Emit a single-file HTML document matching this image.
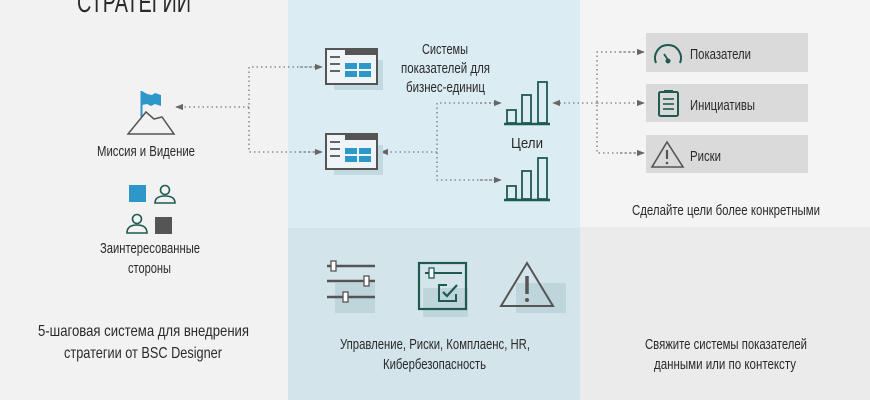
<!DOCTYPE html>
<html><head><meta charset="utf-8"><style>
html,body{margin:0;padding:0;background:#f2f2f2}
svg{display:block}
text{font-family:"Liberation Sans","Noto Sans CJK SC",sans-serif;fill:#2a2a2a}
</style></head><body>
<svg width="870" height="400" viewBox="0 0 870 400" xmlns="http://www.w3.org/2000/svg">
<defs>
<marker id="ar" viewBox="0 0 10 10" refX="9" refY="5" markerWidth="8" markerHeight="8" orient="auto" markerUnits="userSpaceOnUse"><path d="M0,1 L10,5 L0,9 z" fill="#666"/></marker>
</defs>
<rect x="0" y="0" width="288" height="400" fill="#f2f2f2"/>
<rect x="288" y="0" width="292" height="228" fill="#dcecf3"/>
<rect x="288" y="228" width="292" height="172" fill="#d3e4eb"/>
<rect x="580" y="0" width="290" height="227" fill="#f4f4f4"/>
<rect x="580" y="227" width="290" height="173" fill="#ebebeb"/>

<text x="77" y="12" font-size="29" textLength="114" lengthAdjust="spacingAndGlyphs" fill="#222">СТРАТЕГИИ</text>

<!-- flag & mountain -->
<line x1="141.5" y1="91" x2="141.5" y2="117" stroke="#2e97c9" stroke-width="2"/>
<path d="M142,91 L147,94 L152,95 L155,93 L161,95 L161,106 L155,104 L151,106 L147,104 L142,105 z" fill="#2e97c9"/>
<path d="M128,134 L146,112 L154,119 L162,117 L174,134 z" fill="none" stroke="#555" stroke-width="1.5"/>
<text x="97" y="156" font-size="15" textLength="98" lengthAdjust="spacingAndGlyphs">Миссия и Видение</text>

<!-- stakeholders -->
<rect x="129" y="185" width="17" height="17" fill="#2e97c9"/>
<circle cx="165" cy="190" r="4.5" fill="none" stroke="#1f5a50" stroke-width="1.6"/>
<path d="M155,203 Q155,196 165,196 Q175,196 175,203 z" fill="none" stroke="#1f5a50" stroke-width="1.6"/>
<circle cx="137" cy="219" r="4.5" fill="none" stroke="#1f5a50" stroke-width="1.6"/>
<path d="M127,233 Q127,225 137,225 Q147,225 147,233 z" fill="none" stroke="#1f5a50" stroke-width="1.6"/>
<rect x="155" y="217" width="17" height="17" fill="#555"/>
<text x="100" y="253" font-size="15" textLength="100" lengthAdjust="spacingAndGlyphs">Заинтересованные</text>
<text x="128" y="273" font-size="15" textLength="43" lengthAdjust="spacingAndGlyphs">стороны</text>

<text x="38" y="336" font-size="16" textLength="211" lengthAdjust="spacingAndGlyphs">5-шаговая система для внедрения</text>
<text x="64" y="358" font-size="16" textLength="158" lengthAdjust="spacingAndGlyphs">стратегии от BSC Designer</text>

<!-- connectors -->
<g stroke="#777" stroke-width="1.3" stroke-dasharray="1.5,3" fill="none">
<polyline points="321,67 249,67 249,152 321,152" />
<line x1="249" y1="107" x2="176" y2="107" marker-end="url(#ar)"/>
<line x1="300" y1="67" x2="322" y2="67" marker-end="url(#ar)"/>
<line x1="300" y1="152" x2="322" y2="152" marker-end="url(#ar)"/>
<polyline points="500,103 437,103 437,180 500,180"/>
<line x1="480" y1="103" x2="501" y2="103" marker-end="url(#ar)"/>
<line x1="480" y1="180" x2="501" y2="180" marker-end="url(#ar)"/>
<line x1="437" y1="152" x2="381" y2="152" marker-end="url(#ar)"/>
<line x1="597" y1="103" x2="553" y2="103" marker-end="url(#ar)"/>
<polyline points="643,52 597,52 597,153 643,153"/>
<line x1="620" y1="52" x2="644" y2="52" marker-end="url(#ar)"/>
<line x1="597" y1="103" x2="644" y2="103" marker-end="url(#ar)"/>
<line x1="620" y1="153" x2="644" y2="153" marker-end="url(#ar)"/>
</g>

<!-- scorecard icons -->
<g id="sc">
<rect x="334" y="60" width="49" height="30" fill="#c3d9e1"/>
<rect x="326" y="49" width="51" height="35" fill="#eef4f7" stroke="#555" stroke-width="2"/>
<rect x="345" y="49" width="32" height="6" fill="#555"/>
<line x1="330" y1="57" x2="340" y2="57" stroke="#555" stroke-width="1.8"/>
<line x1="330" y1="64" x2="340" y2="64" stroke="#555" stroke-width="1.8"/>
<line x1="330" y1="71" x2="340" y2="71" stroke="#555" stroke-width="1.8"/>
<rect x="345" y="63" width="12" height="6" fill="#2e97c9"/>
<rect x="359" y="63" width="12" height="6" fill="#2e97c9"/>
<rect x="345" y="71" width="12" height="6" fill="#2e97c9"/>
<rect x="359" y="71" width="12" height="6" fill="#2e97c9"/>
</g>
<use href="#sc" transform="translate(0,85)"/>

<text x="422" y="54" font-size="15" textLength="46" lengthAdjust="spacingAndGlyphs">Системы</text>
<text x="401" y="73" font-size="15" textLength="89" lengthAdjust="spacingAndGlyphs">показателей для</text>
<text x="406" y="92" font-size="15" textLength="79" lengthAdjust="spacingAndGlyphs">бизнес-единиц</text>

<!-- bar charts -->
<g id="bc" fill="none" stroke="#1f5a50" stroke-width="1.8">
<rect x="507" y="110" width="9" height="13"/>
<rect x="522" y="95" width="9" height="28"/>
<rect x="538" y="82" width="9" height="41"/>
<line x1="504" y1="124" x2="550" y2="124" stroke-width="2.5"/>
</g>
<use href="#bc" transform="translate(0,76)"/>
<text x="511" y="148" font-size="15" textLength="32" lengthAdjust="spacingAndGlyphs">Цели</text>

<!-- right boxes -->
<rect x="646" y="33" width="162" height="39" fill="#dadada"/>
<rect x="646" y="84" width="162" height="38" fill="#dadada"/>
<rect x="646" y="135" width="162" height="38" fill="#dadada"/>
<path d="M656,63 A13,13 0 1 1 680,63" fill="none" stroke="#1f5a50" stroke-width="2"/>
<line x1="664" y1="54" x2="668" y2="60" stroke="#1f5a50" stroke-width="1.8"/>
<circle cx="668" cy="61" r="2.5" fill="#1f5a50"/>
<text x="690" y="59" font-size="15" textLength="61" lengthAdjust="spacingAndGlyphs">Показатели</text>
<rect x="659" y="92" width="19" height="24" rx="1.5" fill="none" stroke="#1f5a50" stroke-width="2"/>
<rect x="664" y="90" width="9" height="3" fill="#1f5a50"/>
<line x1="663" y1="99" x2="674" y2="99" stroke="#1f5a50" stroke-width="1.6"/>
<line x1="663" y1="104" x2="674" y2="104" stroke="#1f5a50" stroke-width="1.6"/>
<line x1="663" y1="109" x2="674" y2="109" stroke="#1f5a50" stroke-width="1.6"/>
<text x="690" y="110" font-size="15" textLength="65" lengthAdjust="spacingAndGlyphs">Инициативы</text>
<path d="M667,142 L683,167 L652,167 z" fill="none" stroke="#555" stroke-width="1.6"/>
<line x1="667" y1="150" x2="667" y2="159" stroke="#555" stroke-width="2.2"/>
<circle cx="667" cy="163" r="1.3" fill="#555"/>
<text x="690" y="161" font-size="15" textLength="31" lengthAdjust="spacingAndGlyphs">Риски</text>
<text x="632" y="215" font-size="15" textLength="188" lengthAdjust="spacingAndGlyphs" fill="#444">Сделайте цели более конкретными</text>

<!-- bottom middle icons -->
<rect x="335" y="283" width="40" height="30" fill="#bfd5dc"/>
<g stroke="#555" stroke-width="2.5"><line x1="327" y1="266" x2="375" y2="266"/><line x1="327" y1="281" x2="375" y2="281"/><line x1="327" y1="297" x2="375" y2="297"/></g>
<g fill="#fff" stroke="#555" stroke-width="1.3"><rect x="331" y="261" width="5" height="10"/><rect x="364" y="276" width="5" height="10"/><rect x="343" y="292" width="5" height="10"/></g>
<rect x="423" y="288" width="45" height="29" fill="#bfd5dc"/>
<rect x="419" y="263" width="47" height="46" fill="none" stroke="#1f5a50" stroke-width="2.2"/>
<line x1="425" y1="273" x2="462" y2="273" stroke="#1f5a50" stroke-width="2"/>
<rect x="429" y="268" width="5" height="10" fill="#fff" stroke="#1f5a50" stroke-width="1.3"/>
<path d="M447,285 L439,285 L439,301 L456,301 L456,294" fill="none" stroke="#1f5a50" stroke-width="2"/>
<path d="M443,292 L447,296 L457,285" fill="none" stroke="#1f5a50" stroke-width="2.2"/>
<rect x="516" y="283" width="50" height="30" fill="#bfd5dc"/>
<path d="M527,263 L553,306 L501,306 z" fill="none" stroke="#555" stroke-width="2"/>
<line x1="527" y1="276" x2="527" y2="294" stroke="#555" stroke-width="3.5"/>
<circle cx="527" cy="300" r="2" fill="#555"/>
<text x="340" y="349" font-size="15" textLength="190" lengthAdjust="spacingAndGlyphs">Управление, Риски, Комплаенс, HR,</text>
<text x="383" y="369" font-size="15" textLength="103" lengthAdjust="spacingAndGlyphs">Кибербезопасность</text>

<text x="645" y="349" font-size="15" textLength="162" lengthAdjust="spacingAndGlyphs">Свяжите системы показателей</text>
<text x="654" y="369" font-size="15" textLength="142" lengthAdjust="spacingAndGlyphs">данными или по контексту</text>
</svg>
</body></html>
